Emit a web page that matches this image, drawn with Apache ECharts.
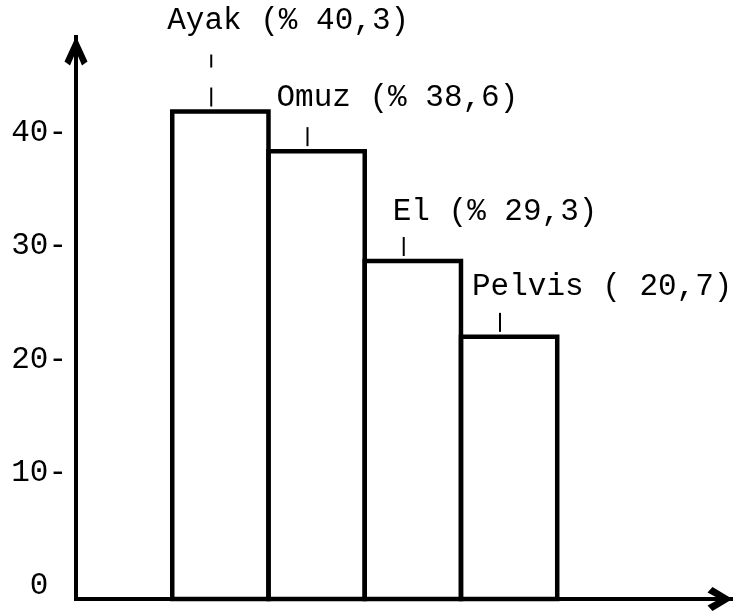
<!DOCTYPE html>
<html>
<head>
<meta charset="utf-8">
<script src="https://cdn.jsdelivr.net/npm/echarts@6/dist/echarts.min.js"></script>
<style>
  html, body { margin: 0; padding: 0; background: #fff; }
  #chart { width: 733px; height: 614px; }
</style>
</head>
<body>
<div id="chart"></div>
<script>
// ---- data ----
const categories = ['Ayak', 'Omuz', 'El', 'Pelvis'];
const values = [41.9, 38.4, 28.7, 22.0];           // bar heights as drawn
const labelTexts = ['Ayak (% 40,3)', 'Omuz (% 38,6)', 'El (% 29,3)', 'Pelvis ( 20,7)'];
const yTicks = [0, 10, 20, 30, 40];

// ---- layout / style (not data) ----
const Y_MIN = -1.15, Y_MAX = 48.48;
const X_MAX = 6.816;
const labelLayout = [
  { dx: -5, dy: -91, extraTick: true },
  { dx: 8,  dy: -53, extraTick: false },
  { dx: 28, dy: -49, extraTick: false },
  { dx: 11, dy: -50, extraTick: false }
];
const FONT = '"Liberation Mono", "Courier New", monospace';

const seriesData = categories.map((c, i) => [i + 1, values[i]]);

const chart = echarts.init(document.getElementById('chart'), null, { renderer: 'canvas' });

const upArrowY = 'path://M11.5,0 L23,25 L17.5,29 L11.5,15 L5.5,29 L0,25 Z';
const upArrowX = 'path://M12,0 L24,20 L18.5,25 L12,13 L5.5,25 L0,20 Z';

chart.setOption({
  animation: false,
  backgroundColor: '#fff',
  grid: { left: 76, right: 1, top: 37, bottom: 15, containLabel: false },
  xAxis: {
    type: 'value',
    min: 0,
    max: X_MAX,
    axisLine: {
      show: true, onZero: false,
      lineStyle: { color: '#000', width: 4, cap: 'square' },
      symbol: ['none', upArrowX],
      symbolSize: [24, 25],
      symbolOffset: [0, -12]
    },
    axisTick: { show: false },
    axisLabel: { show: false },
    splitLine: { show: false }
  },
  yAxis: {
    type: 'value',
    min: Y_MIN,
    max: Y_MAX,
    axisLine: {
      show: true, onZero: false,
      lineStyle: { color: '#000', width: 4, cap: 'square' },
      symbol: ['none', upArrowY],
      symbolSize: [23, 29],
      symbolOffset: [0, -14]
    },
    axisTick: { show: false },
    splitLine: { show: false },
    axisLabel: {
      show: true,
      customValues: yTicks,
      margin: 9,
      color: '#000',
      fontFamily: FONT,
      fontSize: 31,
      formatter: v => (v === 0 ? '0\u00a0' : v + '-')
    }
  },
  series: [{
    type: 'custom',
    data: seriesData,
    silent: true,
    renderItem: function (params, api) {
      const i = params.dataIndex;
      const left = api.value(0), v = api.value(1);
      const p0 = api.coord([left, v]);
      const p1 = api.coord([left + 1, Y_MIN]);
      const L = labelLayout[i];
      const tickX = p0[0] + 39;
      const children = [
        {
          type: 'rect',
          shape: { x: p0[0], y: p0[1], width: p1[0] - p0[0], height: p1[1] - p0[1] },
          style: { fill: 'none', stroke: '#000', lineWidth: 4.5 }
        },
        {
          type: 'text',
          x: p0[0] + L.dx,
          y: p0[1] + L.dy,
          style: { text: labelTexts[i], font: '31px ' + FONT, fill: '#000', align: 'left', verticalAlign: 'middle' }
        },
        {
          type: 'line',
          shape: { x1: tickX, y1: p0[1] - 24, x2: tickX, y2: p0[1] - 5 },
          style: { stroke: '#000', lineWidth: 2 }
        }
      ];
      if (L.extraTick) {
        children.push({
          type: 'line',
          shape: { x1: tickX, y1: p0[1] - 57, x2: tickX, y2: p0[1] - 44 },
          style: { stroke: '#000', lineWidth: 2 }
        });
      }
      return { type: 'group', children: children };
    }
  }]
});
</script>
</body>
</html>
